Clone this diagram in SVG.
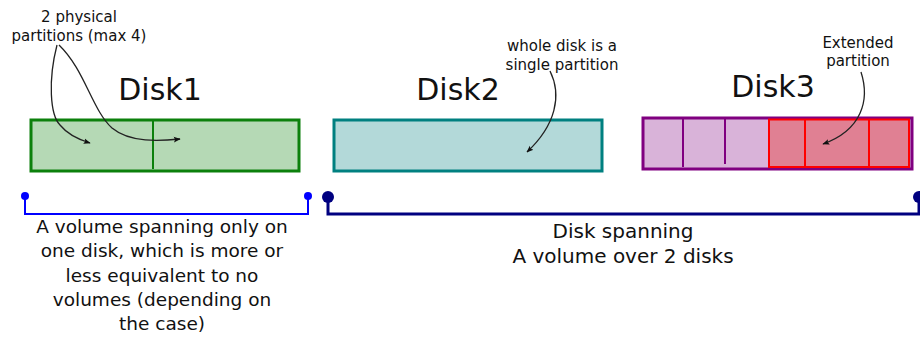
<svg xmlns="http://www.w3.org/2000/svg" width="920" height="337" viewBox="0 0 920 337">
<style>
text{font-family:"DejaVu Sans","Liberation Sans",sans-serif;fill:#111;text-anchor:middle}
.big{font-size:30px}
.note{font-size:15px}
.lbl{font-size:18.5px}
.lbl2{font-size:20px}
.arr{fill:none;stroke:#222;stroke-width:1.3;marker-end:url(#ah)}
</style>
<defs>
<marker id="ah" viewBox="0 0 10 10" refX="9" refY="5" markerWidth="7" markerHeight="7" orient="auto" markerUnits="userSpaceOnUse">
<path d="M0,1 L10,5 L0,9 L2,5 Z" fill="#111"/>
</marker>
</defs>
<rect width="920" height="337" fill="#fff"/>
<g id="disk1">
<rect x="31" y="120" width="268" height="51" fill="#b5d9b5" stroke="#0c800c" stroke-width="3"/>
<line x1="153" y1="120" x2="153" y2="169" stroke="#0c800c" stroke-width="2"/>
<text class="big" x="160" y="100">Disk1</text>
</g>
<g id="disk2">
<rect x="334" y="120" width="268" height="51" fill="#b3d9d9" stroke="#008080" stroke-width="3"/>
<text class="big" x="458" y="100">Disk2</text>
</g>
<g id="disk3">
<rect x="643" y="118" width="269" height="51" fill="#d9b3d9" stroke="#800080" stroke-width="3"/>
<line x1="683" y1="119" x2="683" y2="167" stroke="#800080" stroke-width="2"/>
<line x1="725" y1="119" x2="725" y2="164" stroke="#800080" stroke-width="2"/>
<rect x="769" y="119.5" width="140" height="47.5" fill="#e08093" stroke="#ff0000" stroke-width="2"/>
<line x1="805" y1="120" x2="805" y2="166" stroke="#ff0000" stroke-width="2"/>
<line x1="869" y1="120" x2="869" y2="166" stroke="#ff0000" stroke-width="2"/>
<text class="big" x="773" y="97">Disk3</text>
</g>
<g id="note1">
<text class="note" x="79" y="22">2 physical</text>
<text class="note" x="79" y="41">partitions (max 4)</text>
</g>
<g id="note2">
<text class="note" x="562" y="51">whole disk is a</text>
<text class="note" x="562" y="70">single partition</text>
</g>
<g id="note3">
<text class="note" x="858" y="48">Extended</text>
<text class="note" x="858" y="66">partition</text>
</g>
<g id="vol1">
<circle cx="25" cy="196" r="4" fill="#0000ff"/>
<circle cx="308" cy="196" r="4" fill="#0000ff"/>
<path d="M25,196 V214 H308 V196" fill="none" stroke="#0000ff" stroke-width="2"/>
<text class="lbl" x="162" y="233">A volume spanning only on</text>
<text class="lbl" x="162" y="257">one disk, which is more or</text>
<text class="lbl" x="162" y="282">less equivalent to no</text>
<text class="lbl" x="162" y="306">volumes (depending on</text>
<text class="lbl" x="162" y="330">the case)</text>
</g>
<g id="vol2">
<circle cx="328" cy="197" r="6" fill="#000080"/>
<circle cx="919" cy="197" r="6" fill="#000080"/>
<path d="M328,197 V214 H919 V197" fill="none" stroke="#000080" stroke-width="3"/>
<text class="lbl2" x="623" y="238">Disk spanning</text>
<text class="lbl2" x="623" y="263">A volume over 2 disks</text>
</g>
<g id="connectors">
<path class="arr" d="M57,45 C48,80 50,115 60,125 C68,135 80,140 90,143"/>
<path class="arr" d="M59,45 C85,70 92,110 112,128 C130,143 160,141 180,139"/>
<path class="arr" d="M550,71 C562,95 556,125 527,152"/>
<path class="arr" d="M861,72 C870,100 862,130 823,144"/>
</g>
</svg>
